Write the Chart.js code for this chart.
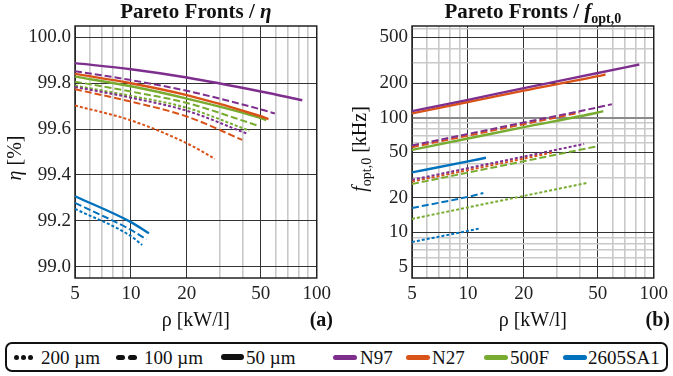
<!DOCTYPE html>
<html><head><meta charset="utf-8">
<script src="https://cdn.jsdelivr.net/npm/chart.js@4.4.1/dist/chart.umd.min.js"></script>
<style>
html,body{margin:0;padding:0;background:#fff;width:673px;height:376px;overflow:hidden;}
#c1{position:absolute;left:0;top:0;}
#c2{position:absolute;left:336px;top:0;}
#legend{position:absolute;left:5px;top:342px;width:659px;height:26px;border:2px solid #111;border-radius:7px;font-family:'Liberation Serif',serif;font-size:19px;color:#111;}
.it{position:absolute;top:0;height:26px;line-height:27px;white-space:nowrap;}
.mk{position:absolute;top:11px;height:5px;border-radius:3px;background:#111;}
.dot{position:absolute;top:11px;width:5px;height:5px;border-radius:3px;background:#111;}
</style></head>
<body>
<canvas id="c1" width="336" height="340"></canvas>
<canvas id="c2" width="337" height="340"></canvas>
<div id="legend">
  <span class="dot" style="left:7px"></span><span class="dot" style="left:14px"></span><span class="dot" style="left:21px"></span>
  <span class="it" style="left:34px">200 µm</span>
  <span class="mk" style="left:109px;width:9px"></span><span class="mk" style="left:121px;width:9px"></span>
  <span class="it" style="left:137px">100 µm</span>
  <span class="mk" style="left:214px;width:23px;height:6px;top:10px"></span>
  <span class="it" style="left:239px">50 µm</span>
  <span class="mk" style="left:326px;width:24px;background:#7E2F8E"></span>
  <span class="it" style="left:353px">N97</span>
  <span class="mk" style="left:399px;width:24px;background:#D95319"></span>
  <span class="it" style="left:425px">N27</span>
  <span class="mk" style="left:477px;width:24px;background:#77AC30"></span>
  <span class="it" style="left:503px">500F</span>
  <span class="mk" style="left:556px;width:24px;background:#0072BD"></span>
  <span class="it" style="left:581px">2605SA1</span>
</div>
<script>
// ---- data ----
const rho_N97_50  = [5, 10, 20, 50, 83.6];
const eta_N97_50  = [99.888, 99.861, 99.825, 99.764, 99.726];
const f_N97_50    = [114, 143, 181, 245, 291];
const rho_N97_100 = [5, 10, 20, 50, 59.5];
const eta_N97_100 = [99.853, 99.814, 99.767, 99.686, 99.668];
const f_N97_100   = [57.2, 72.1, 90.8, 123, 131];
const rho_N97_200 = [5, 10, 20, 42.2];
const eta_N97_200 = [99.784, 99.737, 99.680, 99.580];
const f_N97_200   = [28.7, 36.3, 45.8, 59];

const rho_N27_50  = [5, 10, 20, 50, 55];
const eta_N27_50  = [99.841, 99.800, 99.748, 99.656, 99.644];
const f_N27_50    = [109, 137, 172, 230, 238];
const rho_N27_100 = [5, 10, 20, 39.7];
const eta_N27_100 = [99.774, 99.720, 99.655, 99.553];
const f_N27_100   = [55.3, 69.7, 87.8, 110.5];
const rho_N27_200 = [5, 10, 20, 28.3];
const eta_N27_200 = [99.703, 99.638, 99.538, 99.470];
const f_N27_200   = [27.7, 34.9, 44.0, 49.6];

const rho_500F_50  = [5, 10, 20, 50, 53.5];
const eta_500F_50  = [99.829, 99.787, 99.733, 99.648, 99.639];
const f_500F_50    = [52.4, 65.8, 82.7, 111, 114];
const rho_500F_100 = [5, 10, 20, 48.7];
const eta_500F_100 = [99.807, 99.764, 99.714, 99.614];
const f_500F_100   = [26.4, 33.2, 41.7, 56];
const rho_500F_200 = [5, 10, 20, 43.4];
const eta_500F_200 = [99.790, 99.745, 99.693, 99.593];
const f_500F_200   = [13.1, 16.5, 20.8, 26.9];

const rho_SA1_50  = [5, 10, 12.5];
const eta_SA1_50  = [99.307, 99.194, 99.145];
const f_SA1_50    = [33.3, 41.6, 44.7];
const rho_SA1_100 = [5, 10, 12.1];
const eta_SA1_100 = [99.278, 99.160, 99.119];
const f_SA1_100   = [16.3, 20.4, 22.0];
const rho_SA1_200 = [5, 10, 11.5];
const eta_SA1_200 = [99.252, 99.133, 99.094];
const f_SA1_200   = [8.25, 10.3, 10.8];

const xTicks = [5,6,7,8,9,10,20,30,40,50,60,70,80,90,100];
const xLabels = [5,10,20,50,100];
const etaTicks = [99.0,99.2,99.4,99.6,99.8,100.0];
const fTicks = [5,6,7,8,9,10,20,30,40,50,60,70,80,90,100,200,300,400,500,600];
const fLabels = [5,10,20,50,100,200,500];

// ---- styling ----
const COL = {N97:'#7E2F8E', N27:'#D95319', F500:'#77AC30', SA1:'#0072BD'};
const SERIF = "'Liberation Serif', 'Times New Roman', serif";

function ds(rho, vals, color, style){
  return {
    data: rho.map((r,i)=>({x:r, y:vals[i]})),
    borderColor: color,
    borderWidth: style==='solid' ? 2.4 : 2,
    borderDash: style==='solid' ? [] : (style==='dashed' ? [7,3] : [3,2]),
    pointRadius: 0, fill:false, cubicInterpolationMode:'monotone', borderCapStyle:'butt'
  };
}
const etaSets = [
  ds(rho_N97_50, eta_N97_50, COL.N97, 'solid'),
  ds(rho_N97_100, eta_N97_100, COL.N97, 'dashed'),
  ds(rho_N97_200, eta_N97_200, COL.N97, 'dotted'),
  ds(rho_N27_50, eta_N27_50, COL.N27, 'solid'),
  ds(rho_N27_100, eta_N27_100, COL.N27, 'dashed'),
  ds(rho_N27_200, eta_N27_200, COL.N27, 'dotted'),
  ds(rho_500F_50, eta_500F_50, COL.F500, 'solid'),
  ds(rho_500F_100, eta_500F_100, COL.F500, 'dashed'),
  ds(rho_500F_200, eta_500F_200, COL.F500, 'dotted'),
  ds(rho_SA1_50, eta_SA1_50, COL.SA1, 'solid'),
  ds(rho_SA1_100, eta_SA1_100, COL.SA1, 'dashed'),
  ds(rho_SA1_200, eta_SA1_200, COL.SA1, 'dotted')
];
const fSets = [
  ds(rho_N97_50, f_N97_50, COL.N97, 'solid'),
  ds(rho_N97_100, f_N97_100, COL.N97, 'dashed'),
  ds(rho_N97_200, f_N97_200, COL.N97, 'dotted'),
  ds(rho_N27_50, f_N27_50, COL.N27, 'solid'),
  ds(rho_N27_100, f_N27_100, COL.N27, 'dashed'),
  ds(rho_N27_200, f_N27_200, COL.N27, 'dotted'),
  ds(rho_500F_50, f_500F_50, COL.F500, 'solid'),
  ds(rho_500F_100, f_500F_100, COL.F500, 'dashed'),
  ds(rho_500F_200, f_500F_200, COL.F500, 'dotted'),
  ds(rho_SA1_50, f_SA1_50, COL.SA1, 'solid'),
  ds(rho_SA1_100, f_SA1_100, COL.SA1, 'dashed'),
  ds(rho_SA1_200, f_SA1_200, COL.SA1, 'dotted')
];

function drawRuns(ctx, runs, cx, cy, rot, align){
  ctx.save(); ctx.translate(cx, cy); if (rot) ctx.rotate(-Math.PI/2);
  ctx.textBaseline='alphabetic'; ctx.textAlign='left'; ctx.fillStyle='#111';
  let w=0; runs.forEach(r=>{ctx.font=r.f; r.w=ctx.measureText(r.t).width; w+=r.w;});
  let x = align==='right' ? -w : -w/2;
  runs.forEach(r=>{ctx.font=r.f; ctx.fillText(r.t, x, r.dy||0); x+=r.w;});
  ctx.restore();
}

const decor = {
  id:'decor',
  beforeDatasetsDraw(chart){
    const a=chart.chartArea, ctx=chart.ctx;
    ctx.save(); ctx.strokeStyle='#222'; ctx.lineWidth=1.5;
    ctx.strokeRect(a.left, a.top, a.right-a.left, a.bottom-a.top);
    ctx.restore();
  },
  afterDraw(chart, args, o){
    const a=chart.chartArea, ctx=chart.ctx, cx=(a.left+a.right)/2;
    drawRuns(ctx, o.title, cx, 18, false);
    drawRuns(ctx, [{t:'ρ [kW/l]', f:'20px '+SERIF}], cx, 326, false);
    drawRuns(ctx, [{t:o.tag, f:'bold 20px '+SERIF}], o.tagX, 326, false, 'right');
    drawRuns(ctx, o.ytitle, o.yx, o.yy, true);
  }
};

function gridX(c){
  const v=c.tick.value;
  return [5,10,20,50,100].includes(v) ? '#333' : '#c9c9c9';
}
function gridXW(c){
  const v=c.tick.value;
  return [5,10,20,50,100].includes(v) ? 1 : 1.6;
}
function makeX(){
  return {
    type:'logarithmic', min:5, max:100,
    afterBuildTicks:s=>{ s.ticks = xTicks.map(v=>({value:v})); },
    afterFit:s=>{ s.height = 62; },
    ticks:{autoSkip:false, maxRotation:0, minRotation:0, padding:5, color:'#222',
           font:{family:SERIF, size:19},
           callback:v=> xLabels.includes(v) ? String(v) : ''},
    grid:{drawTicks:false, color:gridX, lineWidth:gridXW},
    border:{display:false}
  };
}

new Chart(document.getElementById('c1'), {
  type:'line',
  data:{datasets: etaSets},
  options:{
    responsive:false, animation:false, devicePixelRatio:1,
    layout:{padding:{left:0, right:15, top:26, bottom:0}},
    plugins:{legend:{display:false}, tooltip:{enabled:false},
      decor:{
        title:[{t:'Pareto Fronts / ', f:'bold 21px '+SERIF},{t:'η', f:'italic bold 21px '+SERIF}],
        tag:'(a)', tagX:333,
        ytitle:[{t:'η', f:'italic 20px '+SERIF},{t:' [%]', f:'20px '+SERIF}],
        yx:21, yy:158
      }},
    scales:{
      x: makeX(),
      y:{type:'linear', min:98.95, max:100.05,
        afterBuildTicks:s=>{ s.ticks = etaTicks.map(v=>({value:v})); },
        afterFit:s=>{ s.width = 75; },
        ticks:{autoSkip:false, padding:4, color:'#222', font:{family:SERIF, size:19},
               callback:v=> Number(v).toFixed(1)},
        grid:{drawTicks:false, color:'#333', lineWidth:1},
        border:{display:false}}
    }
  },
  plugins:[decor]
});

new Chart(document.getElementById('c2'), {
  type:'line',
  data:{datasets: fSets},
  options:{
    responsive:false, animation:false, devicePixelRatio:1,
    layout:{padding:{left:0, right:14, top:26, bottom:0}},
    plugins:{legend:{display:false}, tooltip:{enabled:false},
      decor:{
        title:[{t:'Pareto Fronts / ', f:'bold 21px '+SERIF},{t:'f', f:'italic bold 21px '+SERIF},{t:'opt,0', f:'bold 14px '+SERIF, dy:5}],
        tag:'(b)', tagX:334,
        ytitle:[{t:'f', f:'italic 20px '+SERIF},{t:'opt,0', f:'14px '+SERIF, dy:5},{t:' [kHz]', f:'20px '+SERIF}],
        yx:30, yy:149
      }},
    scales:{
      x: makeX(),
      y:{type:'logarithmic', min:4, max:630,
        afterBuildTicks:s=>{ s.ticks = fTicks.map(v=>({value:v})); },
        afterFit:s=>{ s.width = 76; },
        ticks:{autoSkip:false, padding:4, color:'#222', font:{family:SERIF, size:19},
               callback:v=> fLabels.includes(v) ? String(v) : ''},
        grid:{drawTicks:false,
          color:c=>{const v=c.tick.value; return v===100 ? '#8a8a8a' : (fLabels.includes(v) ? '#333' : '#c9c9c9');},
          lineWidth:c=>{const v=c.tick.value; return v===100 ? 2 : (fLabels.includes(v) ? 1 : 1.6);}},
        border:{display:false}}
    }
  },
  plugins:[decor]
});
</script>
</body></html>
